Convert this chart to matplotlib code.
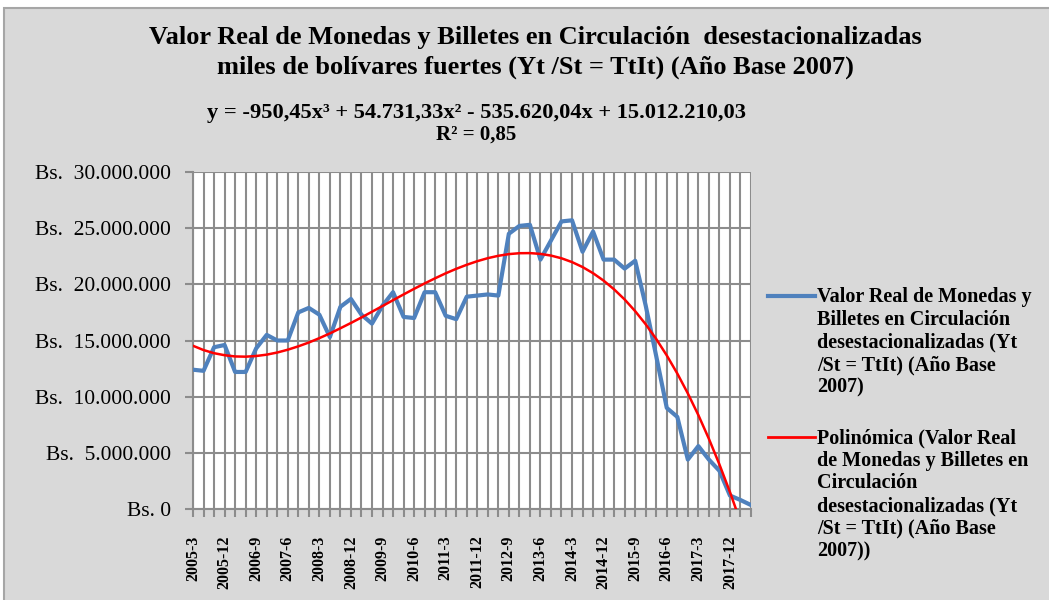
import matplotlib
matplotlib.use("Agg")
from matplotlib import pyplot as plt
from matplotlib.lines import Line2D
from matplotlib.patches import Rectangle


# valor real desestacionalizado, millones de Bs. (trimestral 2005-3 .. 2018-6)
valor_real = [12.4, 12.3, 14.4, 14.6, 12.2, 12.2, 14.3, 15.5, 15.0, 15.0,
              17.5, 17.9, 17.3, 15.3, 18.0, 18.7, 17.3, 16.5, 18.1, 19.3,
              17.1, 17.0, 19.3, 19.3, 17.2, 16.9, 18.9, 19.0, 19.1, 19.0,
              24.5, 25.2, 25.3, 22.2, 23.9, 25.6, 25.7, 22.9, 24.7, 22.2,
              22.2, 21.4, 22.1, 18.1, 13.6, 9.0, 8.2, 4.4, 5.6, 4.4,
              3.4, 1.2, 0.8, 0.35]

# tendencia polinómica (millones de Bs.)
polinomica = [14.53, 14.15, 13.87, 13.69, 13.58, 13.56, 13.62, 13.74, 13.93, 14.18,
              14.48, 14.82, 15.21, 15.63, 16.09, 16.56, 17.05, 17.56, 18.07, 18.59,
              19.10, 19.60, 20.08, 20.54, 20.98, 21.38, 21.74, 22.06, 22.33, 22.54,
              22.69, 22.77, 22.78, 22.71, 22.56, 22.32, 21.98, 21.54, 20.99, 20.33,
              19.55, 18.65, 17.61, 16.44, 15.13, 13.67, 12.06, 10.29, 8.36, 6.25,
              3.97, 1.51, -1.14]

tick_labels = ['2005-3', '2005-12', '2006-9', '2007-6', '2008-3', '2008-12',
               '2009-9', '2010-6', '2011-3', '2011-12', '2012-9', '2013-6',
               '2014-3', '2014-12', '2015-9', '2016-6', '2017-3', '2017-12']

y_ticks = [0, 5, 10, 15, 20, 25, 30]
y_labels = ['Bs. 0', 'Bs.  5.000.000', 'Bs.  10.000.000', 'Bs.  15.000.000',
            'Bs.  20.000.000', 'Bs.  25.000.000', 'Bs.  30.000.000']

leyenda_real = ('Valor Real de Monedas y\nBilletes en Circulación\n'
                'desestacionalizadas (Yt\n/St = TtIt) (Año Base\n2007)')
leyenda_poli = ('Polinómica (Valor Real\nde Monedas y Billetes en\nCirculación\n'
                'desestacionalizadas (Yt\n/St = TtIt) (Año Base\n2007))')

SERIF = 'Liberation Serif'
AZUL = '#4f81bd'
ROJO = '#ff0000'

fig = plt.figure(figsize=(10.49, 6.0), dpi=100, facecolor='white')
fig.add_artist(Rectangle((4 / 1049, -0.01), 1.0, 1 - 8 / 600 + 0.01,
                         transform=fig.transFigure, facecolor='#d9d9d9',
                         edgecolor='#a6a6a6', linewidth=1.5, zorder=-10))

ax = fig.add_axes([193 / 1049, 1 - 509 / 600, 558 / 1049, 337 / 600])
ax.set_facecolor('white')

x = list(range(len(valor_real)))
ax.plot(x, valor_real, color=AZUL, linewidth=3.0, solid_joinstyle='round', zorder=3)
ax.plot(range(len(polinomica)), polinomica, color=ROJO, linewidth=1.8, zorder=4)

ax.set_xlim(0, len(valor_real) - 1)
ax.set_ylim(0, 30)

ax.set_xticks(x)
labels = [''] * len(x)
for i, lab in enumerate(tick_labels):
    labels[i * 3] = lab
ax.set_xticklabels(labels, rotation=90, fontfamily=SERIF, fontweight='bold', fontsize=11.5)
ax.set_yticks(y_ticks)
ax.set_yticklabels(y_labels, fontfamily=SERIF, fontsize=15.5)

ax.grid(True, color='#8c8c8c', linewidth=1.5)
ax.set_axisbelow(True)
ax.tick_params(axis='both', direction='out', length=6, color='#8c8c8c', width=1.5)
ax.tick_params(axis='x', pad=13)
ax.tick_params(axis='y', pad=10)
for side in ['top', 'right']:
    ax.spines[side].set_visible(False)
for side in ['left', 'bottom']:
    ax.spines[side].set_color('#8c8c8c')
    ax.spines[side].set_linewidth(1.5)

fig.text(0.51, 0.937, 'Valor Real de Monedas y Billetes en Circulación  desestacionalizadas',
         ha='center', va='center', fontfamily=SERIF, fontweight='bold', fontsize=19)
fig.text(0.51, 0.888, 'miles de bolívares fuertes (Yt /St = TtIt) (Año Base 2007)',
         ha='center', va='center', fontfamily=SERIF, fontweight='bold', fontsize=19)
fig.text(0.454, 0.811, 'y = -950,45x³ + 54.731,33x² - 535.620,04x + 15.012.210,03',
         ha='center', va='center', fontfamily=SERIF, fontweight='bold', fontsize=16.2)
fig.text(0.454, 0.776, 'R² = 0,85', ha='center', va='center',
         fontfamily=SERIF, fontweight='bold', fontsize=15)

# leyenda: la línea va a la altura del primer renglón
for y_px, color, lw, texto in [(296, AZUL, 3.0, leyenda_real), (437, ROJO, 2.0, leyenda_poli)]:
    fy = 1 - y_px / 600
    fig.add_artist(Line2D([768 / 1049, 815 / 1049], [fy, fy], color=color, linewidth=lw,
                          transform=fig.transFigure))
    fig.text(817 / 1049, fy + 9 / 600, texto, ha='left', va='top', fontfamily=SERIF,
             fontweight='bold', fontsize=14.5, linespacing=1.18)

plt.savefig('out.png', dpi=100, facecolor=fig.get_facecolor())
plt.close()
